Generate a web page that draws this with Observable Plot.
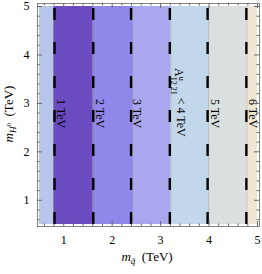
<!DOCTYPE html>
<html><head><meta charset="utf-8">
<script src="https://cdn.jsdelivr.net/npm/d3@7"></script>
<script src="https://cdn.jsdelivr.net/npm/@observablehq/plot@0.6"></script>
<style>body{margin:0;background:#fff} svg{font-family:"Liberation Serif",serif}</style>
</head><body><div id="chart"></div>
<script>
// Data
const bandEdges = [0.5, 0.795, 1.61, 2.42, 3.21, 3.99, 4.78, 5.0];
const bandColors = ["#b8c6ea","#6a4cc0","#8f87ea","#a9a7ee","#c2d7ea","#d9e0df","#f0e6d4"];
const contourX = [0.81, 1.61, 2.39, 3.19, 3.97, 4.77];
const contourLabels = ["1 TeV","2 TeV","3 TeV","A4","5 TeV","6 TeV"];
const labelY = [2.79, 2.79, 2.79, 3.02, 2.79, 2.79];
const labelDx = [6, 7, 6, 9, 7, 6];
const xTicks = [1, 2, 3, 4, 5];
const yTicks = [1, 2, 3, 4, 5];
const yRange = [0.5, 5.0];

const xDomain = [0.459, 5.041];
const yDomain = [0.459, 5.062];
const plotH = 223; // px height of frame
const pxY = (yDomain[1]-yDomain[0]) / plotH;
const pxX = (xDomain[1]-xDomain[0]) / 222;

const bands = bandColors.map((c,i)=>({x1: bandEdges[i], x2: bandEdges[i+1], y1: yRange[0], y2: yRange[1], fill: c}));
const labels = contourLabels.map((t,i)=>({x: contourX[i], y: labelY[i], text: t, dx: labelDx[i]}));
const minor = d3.range(0.6, 5.01, 0.2).map(v=>+v.toFixed(2)).filter(v=>Math.abs(v-Math.round(v))>1e-6);

const tickLen = 5, minorLen = 2.5;
const tickStroke = "#666";
const fmt = d3.format("d");

const plot = Plot.plot({
  width: 262, height: 274,
  marginLeft: 37, marginRight: 3, marginTop: 3, marginBottom: 48,
  x: {domain: xDomain},
  y: {domain: yDomain},
  color: {type: "identity"},
  style: {fontFamily: "Liberation Serif", fontSize: "12px", background: "white", color: "#000"},
  marks: [
    Plot.rect(bands, {x1: "x1", x2: "x2", y1: "y1", y2: "y2", fill: "fill"}),
    Plot.ruleX(bandEdges.slice(1, -1), {y1: yRange[0], y2: yRange[1], stroke: "#777", strokeOpacity: 0.5, strokeWidth: 0.7}),
    Plot.ruleX(contourX, {y1: yRange[0], y2: yRange[1], stroke: "black", strokeWidth: 2.4, strokeDasharray: "12,22"}),
    ...labels.map(l => Plot.text([l], {x: "x", y: "y", text: "text", rotate: 90, dx: l.dx, fontSize: 12, fill: "black", textAnchor: "middle"})),
    // frame ticks (inward)
    Plot.ruleX(xTicks, {y1: yDomain[0], y2: yDomain[0] + tickLen*pxY, stroke: tickStroke}),
    Plot.ruleX(xTicks, {y1: yDomain[1], y2: yDomain[1] - tickLen*pxY, stroke: tickStroke}),
    Plot.ruleX(minor, {y1: yDomain[0], y2: yDomain[0] + minorLen*pxY, stroke: tickStroke}),
    Plot.ruleX(minor, {y1: yDomain[1], y2: yDomain[1] - minorLen*pxY, stroke: tickStroke}),
    Plot.ruleY(yTicks, {x1: xDomain[0], x2: xDomain[0] + tickLen*pxX, stroke: tickStroke}),
    Plot.ruleY(yTicks, {x1: xDomain[1], x2: xDomain[1] - tickLen*pxX, stroke: tickStroke}),
    Plot.ruleY(minor, {x1: xDomain[0], x2: xDomain[0] + minorLen*pxX, stroke: tickStroke}),
    Plot.ruleY(minor, {x1: xDomain[1], x2: xDomain[1] - minorLen*pxX, stroke: tickStroke}),
    Plot.axisX({anchor: "bottom", ticks: xTicks, tickFormat: fmt, tickSize: 0, tickPadding: 9, label: null, fontSize: 12}),
    Plot.axisY({anchor: "left", ticks: yTicks, tickFormat: fmt, tickSize: 0, tickPadding: 8, label: null, fontSize: 12}),
    Plot.frame({stroke: "#666", strokeWidth: 0.8})
  ]
});

document.getElementById("chart").appendChild(plot);
const svg = d3.select(plot);

// Rich label for A^u_{12,21} < 4 TeV
svg.selectAll("text").each(function(){
  const t = d3.select(this);
  if (t.text() === "A4") {
    t.text("");
    t.append("tspan").text("A");
    t.append("tspan").attr("dy", "-0.45em").attr("font-size", "8px").text("u");
    t.append("tspan").attr("dx", "-4").attr("dy", "0.95em").attr("font-size", "8px").text("12 21");
    t.append("tspan").attr("dy", "-0.5em").text(" < 4 TeV");
  }
});

// Axis labels
const xl = svg.append("text").attr("x", 147).attr("y", 261).attr("text-anchor", "middle")
  .attr("font-size", 13).attr("font-family", "Liberation Serif");
xl.append("tspan").attr("font-style", "italic").text("m");
xl.append("tspan").attr("font-style", "italic").attr("font-size", 9).attr("dy", 3).text("q\u0303");
xl.append("tspan").attr("dy", -3).text("\u2002(TeV)");

const yl = svg.append("text").attr("transform", "translate(13,114) rotate(-90)").attr("text-anchor", "middle")
  .attr("font-size", 13).attr("font-family", "Liberation Serif");
yl.append("tspan").attr("font-style", "italic").text("m");
yl.append("tspan").attr("font-style", "italic").attr("font-size", 9).attr("dy", 3).text("H");
yl.append("tspan").attr("font-size", 7).attr("dy", -5).text("0");
yl.append("tspan").attr("dy", 2).text("\u2002(TeV)");
</script></body></html>
